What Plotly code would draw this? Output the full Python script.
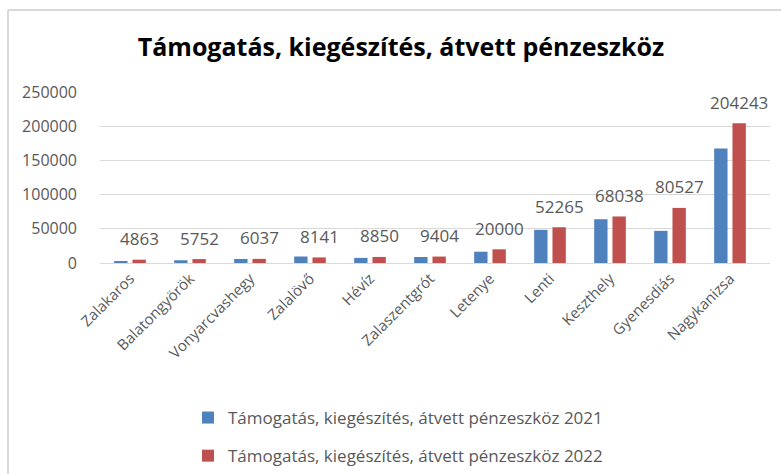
import plotly.graph_objects as go

categories = ["Zalakaros", "Balatongyörök", "Vonyarcvashegy", "Zalalövő", "Hévíz",
              "Zalaszentgrót", "Letenye", "Lenti", "Keszthely", "Gyenesdiás", "Nagykanizsa"]
values_2021 = [2600, 4000, 5900, 9500, 7500, 8800, 16500, 48500, 64000, 47000, 167500]
values_2022 = [4863, 5752, 6037, 8141, 8850, 9404, 20000, 52265, 68038, 80527, 204243]
series_names = ["Támogatás, kiegészítés, átvett pénzeszköz 2021",
                "Támogatás, kiegészítés, átvett pénzeszköz 2022"]
title_text = "Támogatás, kiegészítés, átvett pénzeszköz"
y_ticks = [0, 50000, 100000, 150000, 200000, 250000]

FONT = "Open Sans"
GRAY = "#595959"

fig = go.Figure()
fig.add_trace(go.Bar(x=categories, y=values_2021, name=series_names[0],
                     marker=dict(color="#4f81bd", line=dict(width=0)),
                     legendgroup="a"))
fig.add_trace(go.Bar(x=categories, y=values_2022, name=series_names[1],
                     marker=dict(color="#c0504d", line=dict(width=0)),
                     legendgroup="b"))

for c, v in zip(categories, values_2022):
    fig.add_annotation(x=c, y=v, text=str(v), showarrow=False,
                       xshift=9, yshift=21, yanchor="middle", xanchor="center",
                       font=dict(family=FONT, size=17, color=GRAY))

L, R, T, B = 100, 11, 92, 211
W, H = 781, 474
pw, ph = W - L - R, H - T - B
bx = (8 - L) / pw
by = 1 + (T - 10) / ph
fig.add_shape(type="line", xref="paper", yref="paper", x0=bx, x1=1.2, y0=by, y1=by,
              line=dict(color="#d9d9d9", width=2))
fig.add_shape(type="line", xref="paper", yref="paper", x0=bx, x1=bx, y0=by, y1=-1.5,
              line=dict(color="#d9d9d9", width=2))

fig.update_layout(
    width=W, height=H,
    margin=dict(l=L, r=R, t=T, b=B, autoexpand=False),
    paper_bgcolor="white", plot_bgcolor="white",
    title=dict(text="<b>" + title_text + "</b>", x=401 / W, xref="container", xanchor="center",
               y=1 - 47 / H, yref="container", yanchor="middle",
               font=dict(family=FONT, size=25, color="black")),
    barmode="group", bargap=0.39, bargroupgap=0.27,
    showlegend=True,
    legend=dict(orientation="v", x=(188 - L) / pw, xanchor="left",
                y=-(414 - (T + ph) - 14) / ph, yanchor="top",
                traceorder="grouped", tracegroupgap=13,
                font=dict(family=FONT, size=17, color=GRAY)),
    xaxis=dict(tickangle=-45, tickfont=dict(family=FONT, size=15, color=GRAY),
               showline=True, linecolor="#d9d9d9", linewidth=1, ticks="",
               showgrid=False, automargin=False),
    yaxis=dict(range=[0, 250000], tickvals=y_ticks, ticktext=[str(t) for t in y_ticks],
               tickfont=dict(family=FONT, size=16, color=GRAY),
               showgrid=True, gridcolor="#d9d9d9", gridwidth=1,
               zeroline=False, showline=False, ticks="", ticklabelstandoff=22,
               automargin=False),
)

fig.write_html("out.html", config={"displayModeBar": False},
               post_script="document.body.style.margin='0';document.body.style.overflow='hidden';")
